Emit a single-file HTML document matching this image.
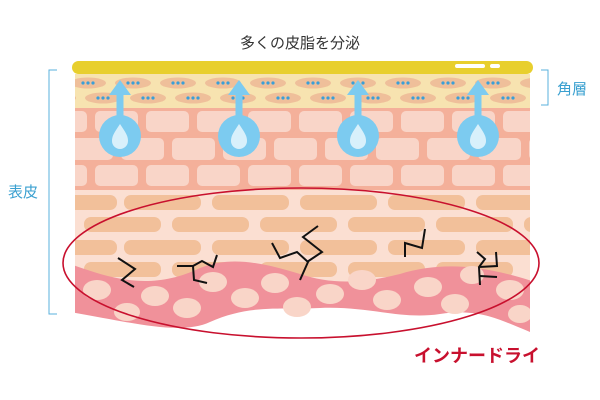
<!DOCTYPE html>
<html><head><meta charset="utf-8"><style>
html,body{margin:0;padding:0;background:#fff;width:600px;height:400px;overflow:hidden}
svg{display:block}
text{font-family:"Liberation Sans","Noto Sans CJK JP",sans-serif}
</style></head><body>
<svg width="600" height="400" viewBox="0 0 600 400">
<defs>
<clipPath id="c"><rect x="75" y="60" width="455" height="300"/></clipPath>
<g id="dots"><circle cx="-5" cy="0" r="1.6" fill="#3a9fd8"/><circle cx="0" cy="0" r="1.6" fill="#3a9fd8"/><circle cx="5" cy="0" r="1.6" fill="#3a9fd8"/></g>
</defs>
<text x="300" y="48" font-size="15" text-anchor="middle" fill="#333">多くの皮脂を分泌</text>
<text x="557" y="94" font-size="15" fill="#3aa0d0">角層</text>
<text x="8" y="197" font-size="15" fill="#3aa0d0">表皮</text>
<path d="M541 70 H548 V105 H541" fill="none" stroke="#5ab0dc" stroke-width="1"/>
<path d="M57 70 H49 V314 H57" fill="none" stroke="#5ab0dc" stroke-width="1"/>
<g clip-path="url(#c)">
<rect x="75" y="74" width="455" height="34" fill="#f7e3b0"/>
<g fill="#efbf9a">
<ellipse cx="88" cy="83" rx="18" ry="5.5"/><ellipse cx="133" cy="83" rx="18" ry="5.5"/><ellipse cx="178" cy="83" rx="18" ry="5.5"/><ellipse cx="223" cy="83" rx="18" ry="5.5"/><ellipse cx="268" cy="83" rx="18" ry="5.5"/><ellipse cx="313" cy="83" rx="18" ry="5.5"/><ellipse cx="358" cy="83" rx="18" ry="5.5"/><ellipse cx="403" cy="83" rx="18" ry="5.5"/><ellipse cx="448" cy="83" rx="18" ry="5.5"/><ellipse cx="493" cy="83" rx="18" ry="5.5"/><ellipse cx="538" cy="83" rx="18" ry="5.5"/>
<ellipse cx="58" cy="98" rx="18" ry="5.5"/><ellipse cx="103" cy="98" rx="18" ry="5.5"/><ellipse cx="148" cy="98" rx="18" ry="5.5"/><ellipse cx="193" cy="98" rx="18" ry="5.5"/><ellipse cx="238" cy="98" rx="18" ry="5.5"/><ellipse cx="283" cy="98" rx="18" ry="5.5"/><ellipse cx="328" cy="98" rx="18" ry="5.5"/><ellipse cx="373" cy="98" rx="18" ry="5.5"/><ellipse cx="418" cy="98" rx="18" ry="5.5"/><ellipse cx="463" cy="98" rx="18" ry="5.5"/><ellipse cx="508" cy="98" rx="18" ry="5.5"/>
</g>
<use href="#dots" x="88" y="83"/><use href="#dots" x="133" y="83"/><use href="#dots" x="178" y="83"/><use href="#dots" x="223" y="83"/><use href="#dots" x="268" y="83"/><use href="#dots" x="313" y="83"/><use href="#dots" x="358" y="83"/><use href="#dots" x="403" y="83"/><use href="#dots" x="448" y="83"/><use href="#dots" x="493" y="83"/><use href="#dots" x="538" y="83"/>
<use href="#dots" x="103" y="98"/><use href="#dots" x="148" y="98"/><use href="#dots" x="193" y="98"/><use href="#dots" x="238" y="98"/><use href="#dots" x="283" y="98"/><use href="#dots" x="328" y="98"/><use href="#dots" x="373" y="98"/><use href="#dots" x="418" y="98"/><use href="#dots" x="463" y="98"/><use href="#dots" x="508" y="98"/>
<rect x="75" y="108" width="455" height="82" fill="#f4b09a"/>
<g fill="#f9d5c8">
<rect x="44" y="111" width="43" height="21" rx="5"/><rect x="95" y="111" width="43" height="21" rx="5"/><rect x="146" y="111" width="43" height="21" rx="5"/><rect x="197" y="111" width="43" height="21" rx="5"/><rect x="248" y="111" width="43" height="21" rx="5"/><rect x="299" y="111" width="43" height="21" rx="5"/><rect x="350" y="111" width="43" height="21" rx="5"/><rect x="401" y="111" width="43" height="21" rx="5"/><rect x="452" y="111" width="43" height="21" rx="5"/><rect x="503" y="111" width="43" height="21" rx="5"/>
<rect x="70" y="138" width="43" height="22" rx="5"/><rect x="121" y="138" width="43" height="22" rx="5"/><rect x="172" y="138" width="43" height="22" rx="5"/><rect x="223" y="138" width="43" height="22" rx="5"/><rect x="274" y="138" width="43" height="22" rx="5"/><rect x="325" y="138" width="43" height="22" rx="5"/><rect x="376" y="138" width="43" height="22" rx="5"/><rect x="427" y="138" width="43" height="22" rx="5"/><rect x="478" y="138" width="43" height="22" rx="5"/><rect x="529" y="138" width="43" height="22" rx="5"/>
<rect x="44" y="165" width="43" height="21" rx="5"/><rect x="95" y="165" width="43" height="21" rx="5"/><rect x="146" y="165" width="43" height="21" rx="5"/><rect x="197" y="165" width="43" height="21" rx="5"/><rect x="248" y="165" width="43" height="21" rx="5"/><rect x="299" y="165" width="43" height="21" rx="5"/><rect x="350" y="165" width="43" height="21" rx="5"/><rect x="401" y="165" width="43" height="21" rx="5"/><rect x="452" y="165" width="43" height="21" rx="5"/><rect x="503" y="165" width="43" height="21" rx="5"/>
</g>
<rect x="75" y="190" width="455" height="100" fill="#fbdfd2"/>
<g fill="#f2c09a">
<rect x="40" y="195" width="77" height="15" rx="7"/><rect x="124" y="195" width="77" height="15" rx="7"/><rect x="212" y="195" width="77" height="15" rx="7"/><rect x="300" y="195" width="77" height="15" rx="7"/><rect x="388" y="195" width="77" height="15" rx="7"/><rect x="476" y="195" width="77" height="15" rx="7"/>
<rect x="84" y="217" width="77" height="15" rx="7"/><rect x="172" y="217" width="77" height="15" rx="7"/><rect x="260" y="217" width="77" height="15" rx="7"/><rect x="348" y="217" width="77" height="15" rx="7"/><rect x="436" y="217" width="77" height="15" rx="7"/><rect x="524" y="217" width="77" height="15" rx="7"/>
<rect x="40" y="240" width="77" height="15" rx="7"/><rect x="124" y="240" width="77" height="15" rx="7"/><rect x="212" y="240" width="77" height="15" rx="7"/><rect x="300" y="240" width="77" height="15" rx="7"/><rect x="388" y="240" width="77" height="15" rx="7"/><rect x="476" y="240" width="77" height="15" rx="7"/>
<rect x="84" y="262" width="77" height="15" rx="7"/><rect x="172" y="262" width="77" height="15" rx="7"/><rect x="260" y="262" width="77" height="15" rx="7"/><rect x="348" y="262" width="77" height="15" rx="7"/><rect x="436" y="262" width="77" height="15" rx="7"/>
</g>
<rect x="75" y="290" width="455" height="80" fill="#fff"/>
<path d="M70 264 C110 278 150 292 200 268 C230 256 260 262 300 274 C330 284 360 284 400 274 C440 262 480 264 535 282 L535 334 C500 320 480 308 440 314 C400 320 370 306 320 308 C280 310 250 304 210 322 C180 336 130 322 70 312 Z" fill="#f0919a"/>
<g fill="#f9d5c8">
<ellipse cx="97" cy="290" rx="14" ry="10"/><ellipse cx="127" cy="312" rx="13" ry="9"/><ellipse cx="155" cy="296" rx="14" ry="10"/><ellipse cx="187" cy="308" rx="14" ry="10"/><ellipse cx="213" cy="282" rx="14" ry="10"/><ellipse cx="245" cy="298" rx="14" ry="10"/><ellipse cx="275" cy="283" rx="14" ry="10"/><ellipse cx="297" cy="307" rx="14" ry="10"/><ellipse cx="330" cy="294" rx="14" ry="10"/><ellipse cx="362" cy="280" rx="14" ry="10"/><ellipse cx="387" cy="300" rx="14" ry="10"/><ellipse cx="428" cy="287" rx="14" ry="10"/><ellipse cx="455" cy="304" rx="14" ry="10"/><ellipse cx="472" cy="275" rx="12" ry="9"/><ellipse cx="510" cy="290" rx="14" ry="10"/><ellipse cx="520" cy="314" rx="12" ry="9"/>
</g>
</g>
<rect x="72" y="61" width="461" height="13" rx="6.5" fill="#e8cf2e"/>
<rect x="455" y="64" width="30" height="4" rx="2" fill="#fff"/><rect x="490" y="64" width="10" height="4" rx="2" fill="#fff"/>
<g fill="#7ccbf0">
<g id="dr"><rect x="116.5" y="92" width="7" height="30"/><path d="M109 95 L120 80 L131 95 Z"/><circle cx="120" cy="136" r="21"/><path d="M120 124 C126 133 128 136 128 141 A8 8 0 0 1 112 141 C112 136 114 133 120 124 Z" fill="#d8f0fb"/></g>
<use href="#dr" x="119"/><use href="#dr" x="238"/><use href="#dr" x="358"/>
</g>
<g fill="none" stroke="#111" stroke-width="2">
<polyline points="118,258 135,269 122,280 134,287"/>
<polyline points="177,266 193,266 194,280 207,283"/>
<polyline points="193,266 202,261 213,267 217,255"/>
<polyline points="272,243 280,258 297,252 308,262 300,280"/>
<polyline points="318,226 303,237 322,252 307,262"/>
<polyline points="405,257 405,243 422,248 425,229"/>
<polyline points="477,252 485,259 479,267 480,285"/>
<polyline points="479,267 497,266 496,252"/>
<polyline points="480,276 497,277"/>
</g>
<ellipse cx="301" cy="263" rx="238" ry="75" fill="none" stroke="#c8102e" stroke-width="1.6"/>
<text x="540" y="362" font-size="18" font-weight="bold" text-anchor="end" fill="#c8102e">インナードライ</text>
</svg>
</body></html>
